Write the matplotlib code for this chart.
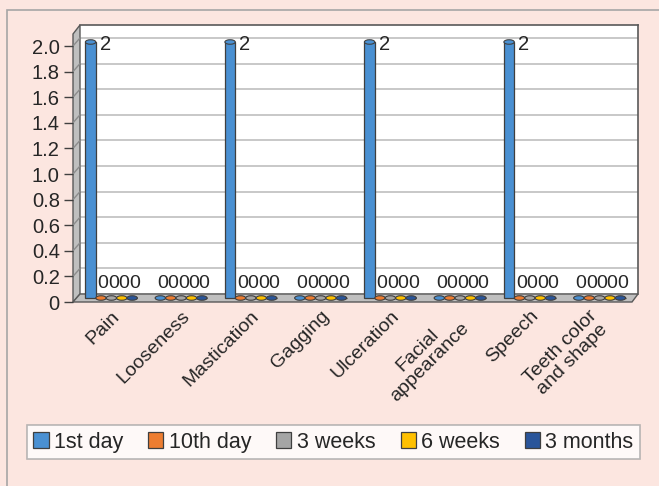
import matplotlib
matplotlib.use("Agg")
import matplotlib.pyplot as plt
from matplotlib.patches import Polygon, Rectangle, Ellipse, Patch
from matplotlib.lines import Line2D
from matplotlib.transforms import ScaledTranslation
import numpy as np

plt.rcParams['font.family'] = ['Liberation Sans', 'DejaVu Sans']

categories = ["Pain", "Looseness", "Mastication", "Gagging", "Ulceration",
              "Facial\nappearance", "Speech", "Teeth color\nand shape"]
series_names = ["1st day", "10th day", "3 weeks", "6 weeks", "3 months"]
day1 = [2, 0, 2, 0, 2, 0, 2, 0]
day10 = [0, 0, 0, 0, 0, 0, 0, 0]
weeks3 = [0, 0, 0, 0, 0, 0, 0, 0]
weeks6 = [0, 0, 0, 0, 0, 0, 0, 0]
months3 = [0, 0, 0, 0, 0, 0, 0, 0]
series = [day1, day10, weeks3, weeks6, months3]
colors = ["#4A90D2", "#ED7D31", "#A5A5A5", "#FFC000", "#2A559A"]
yticks = [0, 0.2, 0.4, 0.6, 0.8, 1.0, 1.2, 1.4, 1.6, 1.8, 2.0]

W, H = 659, 486
fig = plt.figure(figsize=(W / 100, H / 100), dpi=100)
fig.patch.set_facecolor("#FCE6E0")

def fx(x):
    return x / W

def fy(y):
    return 1 - y / H

edge = "#595959"
txt = "#262626"
SCALE = 128.0
ytop = (294 - 25) / SCALE

# outer border
fig.add_artist(Rectangle((fx(7), fy(520)), (700 - 7) / W, (520 - 10) / H,
                         transform=fig.transFigure, fill=False,
                         edgecolor="#A6A6A6", lw=1.2, zorder=0.5))

# back wall axes
axb = fig.add_axes([fx(80), fy(294), 558 / W, 269 / H])
axb.set_facecolor("white")
axb.set_xlim(-0.5, 7.5)
axb.set_ylim(0, ytop)
axb.set_yticks(yticks)
axb.set_xticks([])
axb.tick_params(left=False, labelleft=False)
axb.grid(axis="y", color="#C4C4C4", lw=1.3)
for s in ["left", "bottom"]:
    axb.spines[s].set_visible(False)
for s in ["top", "right"]:
    axb.spines[s].set_color(edge)
    axb.spines[s].set_linewidth(1.2)
axb.set_zorder(0)

# left wall and floor
wall = Polygon([(fx(73), fy(302)), (fx(80), fy(294)), (fx(80), fy(25)), (fx(73), fy(34))],
               closed=True, transform=fig.transFigure, facecolor="#BFBFBF",
               edgecolor=edge, lw=1.0, zorder=1)
floor = Polygon([(fx(73), fy(302)), (fx(632), fy(302)), (fx(638), fy(294)), (fx(80), fy(294))],
                closed=True, transform=fig.transFigure, facecolor="#BFBFBF",
                edgecolor=edge, lw=1.0, zorder=1)
fig.add_artist(wall)
fig.add_artist(floor)
for v in yticks[1:]:
    fig.add_artist(Line2D([fx(73), fx(80)], [fy(302 - SCALE * v), fy(294 - SCALE * v)],
                          transform=fig.transFigure, color="#8C8C8C", lw=1.0, zorder=1.5))

# bars (mid plane)
axm = fig.add_axes([fx(76.5), fy(298), 558 / W, 269 / H])
axm.set_facecolor("none")
axm.set_xlim(-0.5, 7.5)
axm.set_ylim(0, ytop)
axm.axis("off")
axm.set_zorder(2)

x = np.arange(len(categories))
bw = 0.149
eh = 4.5 / SCALE
for j, (vals, col, name) in enumerate(zip(series, colors, series_names)):
    xs = x + (j - 2) * bw
    axm.bar(xs, vals, width=bw, color=col, edgecolor="#3F3F3F", lw=0.9,
            clip_on=False, zorder=3)
    for xi, v in zip(xs, vals):
        axm.add_patch(Ellipse((xi, v), bw, eh, facecolor=col, edgecolor="#3F3F3F",
                              lw=0.8, zorder=4, clip_on=False))
        if v > 0:
            axm.annotate(f"{v:g}", (xi + bw / 2, v), xytext=(3, -1.5),
                         textcoords="offset points", ha="left", va="center",
                         fontsize=14.5, color=txt, zorder=5)
        else:
            axm.annotate(f"{v:g}", (xi, v), xytext=(1.5, 10.5),
                         textcoords="offset points", ha="center", va="center",
                         fontsize=14, color=txt, zorder=5)

# front plane: axis ticks and labels
axf = fig.add_axes([fx(73), fy(302), 559 / W, 269 / H])
axf.set_facecolor("none")
axf.set_xlim(-0.5, 7.5)
axf.set_ylim(0, ytop)
axf.set_yticks(yticks)
axf.set_yticklabels(["0"] + [f"{v:.1f}" for v in yticks[1:]])
axf.tick_params(axis="y", length=6.5, width=1.0, color="#404040",
                labelsize=14.5, labelcolor=txt, pad=3)
axf.set_xticks(x)
axf.set_xticklabels(categories)
axf.tick_params(axis="x", length=0, labelsize=14, labelcolor=txt, pad=4)
for lab in axf.get_xticklabels():
    lab.set_rotation(45)
    lab.set_ha("right")
    lab.set_va("top")
    lab.set_multialignment("center")
    lab.set_linespacing(1.0)
    lab.set_transform(lab.get_transform() + ScaledTranslation(15 / 100, 0, fig.dpi_scale_trans))
for s in ["top", "right", "bottom", "left"]:
    axf.spines[s].set_visible(False)
axf.set_zorder(3)

# legend
handles = [Patch(facecolor=c, edgecolor="#3F3F3F", lw=0.9) for c in colors]
leg = fig.legend(handles, series_names, loc="lower left",
                 bbox_to_anchor=(fx(27), fy(459), 613 / W, 32 / H), mode="expand",
                 ncol=5, fontsize=15.5, frameon=True, fancybox=False,
                 edgecolor="#A6A6A6", borderaxespad=0, handlelength=0.7,
                 handleheight=0.7, handletextpad=0.25, borderpad=0.3,
                 columnspacing=0.8)
leg.get_frame().set_linewidth(1.2)
for t in leg.get_texts():
    t.set_color(txt)

fig.savefig("out.png", dpi=100, facecolor=fig.get_facecolor())
